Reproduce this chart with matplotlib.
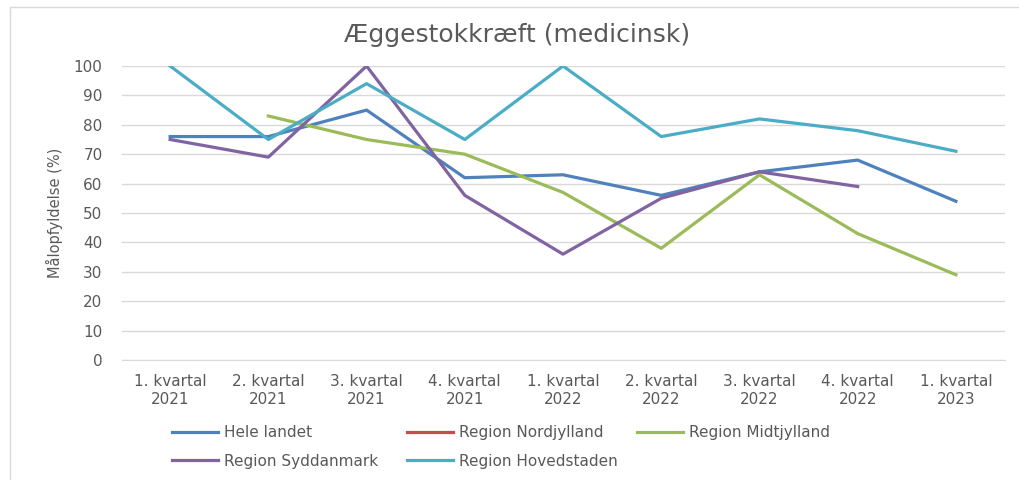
import numpy as np
import matplotlib.pyplot as plt
from matplotlib.patches import Rectangle

plt.rcParams['font.family'] = ['DejaVu Sans']

kvartaler = ['1. kvartal\n2021', '2. kvartal\n2021', '3. kvartal\n2021', '4. kvartal\n2021',
             '1. kvartal\n2022', '2. kvartal\n2022', '3. kvartal\n2022', '4. kvartal\n2022',
             '1. kvartal\n2023']

hele_landet = [76, 76, 85, 62, 63, 56, 64, 68, 54]
nordjylland = [np.nan] * 9
midtjylland = [np.nan, 83, 75, 70, 57, 38, 63, 43, 29]
syddanmark = [75, 69, 100, 56, 36, 55, 64, 59, np.nan]
hovedstaden = [100, 75, 94, 75, 100, 76, 82, 78, 71]

serier = [
    ('Hele landet', hele_landet, '#4F81BD'),
    ('Region Nordjylland', nordjylland, '#C0504D'),
    ('Region Midtjylland', midtjylland, '#9BBB59'),
    ('Region Syddanmark', syddanmark, '#8064A2'),
    ('Region Hovedstaden', hovedstaden, '#4BACC6'),
]
tekstfarve = '#595959'

fig = plt.figure(figsize=(10.19, 4.8), dpi=100)
# ramme rundt om diagrammet
fig.patches.append(Rectangle((10 / 1019, -0.01), 1.1, 1 - 7 / 480 + 0.01, transform=fig.transFigure,
                             fill=False, edgecolor='#D9D9D9', linewidth=1))

ax = fig.add_axes([122 / 1019, 0.25, (1005 - 122) / 1019, 0.6125])
x = np.arange(len(kvartaler))
linjer = {}
for navn, vaerdier, farve in serier:
    linjer[navn], = ax.plot(x, vaerdier, color=farve, linewidth=2.3, label=navn)

ax.set_xlim(-0.49, 8.5)
ax.set_ylim(0, 100)
ax.set_yticks(range(0, 101, 10))
ax.set_xticks(x)
ax.set_xticklabels(kvartaler, fontsize=11, color=tekstfarve, linespacing=1.25)
ax.tick_params(axis='y', labelsize=11, labelcolor=tekstfarve, length=0, pad=14)
ax.tick_params(axis='x', length=0, pad=10)
ax.grid(axis='y', color='#D9D9D9', linewidth=1)
ax.set_axisbelow(True)
for side in ['top', 'right', 'left']:
    ax.spines[side].set_visible(False)
ax.spines['bottom'].set_color('#D9D9D9')

ax.set_ylabel('Målopfyldelse (%)', fontsize=10.5, color=tekstfarve, labelpad=8)
fig.text(517 / 1019, 1 - 35 / 480, 'Æggestokkræft (medicinsk)', fontsize=18, color=tekstfarve,
         ha='center', va='center')

# legende i tre kolonner som i Excel
kolonner = [(172, ['Hele landet', 'Region Syddanmark']),
            (407, ['Region Nordjylland', 'Region Hovedstaden']),
            (637, ['Region Midtjylland'])]
for xpos, navne in kolonner:
    leg = fig.legend([linjer[n] for n in navne], navne, loc='upper left',
                     bbox_to_anchor=(xpos / 1019, 1 - 425 / 480), ncol=1, frameon=False,
                     fontsize=11, handlelength=3.0, handletextpad=0.4, borderpad=0,
                     borderaxespad=0, labelspacing=0.9, labelcolor=tekstfarve)

fig.savefig('out.png', dpi=100)
